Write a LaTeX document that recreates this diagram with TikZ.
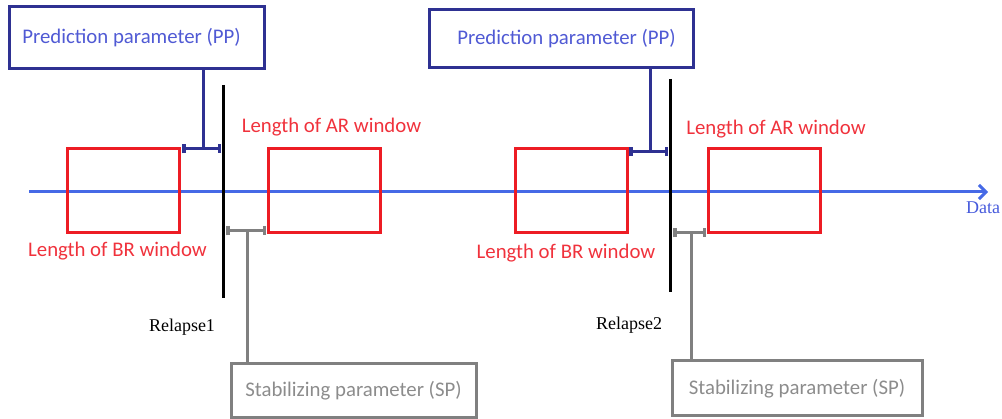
\documentclass[tikz,border=0pt]{standalone}
\usepackage{fontspec}
\setmainfont{Carlito}
\newfontfamily\tnrfont{Liberation Serif}
\usetikzlibrary{arrows.meta}
\definecolor{ppborder}{RGB}{46,49,146}
\definecolor{pptext}{RGB}{80,90,212}
\definecolor{axisblue}{RGB}{70,105,230}
\definecolor{datablue}{RGB}{70,90,220}
\definecolor{winred}{RGB}{237,28,36}
\definecolor{labred}{RGB}{240,50,60}
\definecolor{spgray}{RGB}{128,128,128}
\definecolor{sptext}{RGB}{140,140,140}
\tikzset{
  x=1pt, y=-1pt,
  every node/.style={outer sep=0pt, inner sep=0pt},
  bigfont/.style={font=\fontsize{20.8}{24}\selectfont},
  ppbox/.style={draw=ppborder, line width=3pt, rectangle, text=pptext, bigfont},
  spbox/.style={draw=spgray, line width=3pt, rectangle, text=sptext, bigfont},
  winbox/.style={draw=winred, line width=3pt, rectangle, minimum width=112, minimum height=84},
  winlabel/.style={text=labred, bigfont},
  relline/.style={draw=black, line width=3pt},
  relabel/.style={font=\tnrfont\fontsize{18}{20}\selectfont, text=black},
  ppline/.style={draw=ppborder, line width=3pt},
  spline/.style={draw=spgray, line width=3pt},
  barends/.style={{Bar[width=9pt,line width=3.5pt]}-{Bar[width=9pt,line width=3.5pt]}},
}
\begin{document}
\begin{tikzpicture}
\useasboundingbox (0,0) rectangle (1002,419);
% data axis
\coordinate (axs) at (29,192);
\coordinate (axe) at (988,192);
\draw[draw=axisblue, line width=3pt, -{Straight Barb[length=7pt,width=14pt,line width=3pt]}] (axs) -- (axe);
\node[text=datablue, font=\tnrfont\fontsize{18}{20}\selectfont, anchor=center] (data) at (983,208) {Data};

% windows
\node[winbox] (br1) at (123,191) {};
\node[winbox] (ar1) at (324,191) {};
\node[winbox] (br2) at (571,191) {};
\node[winbox] (ar2) at (764,191) {};

\node[winlabel] (arl1) at (331.5,127) {Length of AR window};
\node[winlabel] (brl1) at (117.5,251) {Length of BR window};
\node[winlabel] (arl2) at (776,129) {Length of AR window};
\node[winlabel] (brl2) at (566,253) {Length of BR window};

% relapse lines
\coordinate (r1t) at (223,85);
\coordinate (r1b) at (223,298);
\coordinate (r2t) at (670,79);
\coordinate (r2b) at (670,292);
\draw[relline] (r1t) -- (r1b);
\draw[relline] (r2t) -- (r2b);
\node[relabel] (rel1) at (182,327) {Relapse1};
\node[relabel] (rel2) at (629,325) {Relapse2};

% prediction parameter boxes
\node[ppbox, minimum width=255, minimum height=62] (pp1) at (136.5,38) {\hspace*{-10pt}Prediction parameter (PP)};
\node[ppbox, minimum width=264, minimum height=58] (pp2) at (561,38.5) {\hspace*{11pt}Prediction parameter (PP)};

% PP brackets
\coordinate (pb1l) at (182,149);
\coordinate (pb1r) at (221,149);
\coordinate (pb1m) at (203,149);
\draw[ppline, barends] (pb1l) -- (pb1r);
\draw[ppline] (pp1.south -| pb1m) -- (pb1m);
\coordinate (pb2l) at (629,152);
\coordinate (pb2r) at (668,152);
\coordinate (pb2m) at (650,152);
\draw[ppline, barends] (pb2l) -- (pb2r);
\draw[ppline] (pp2.south -| pb2m) -- (pb2m);

% stabilizing parameter boxes
\node[spbox, minimum width=245, minimum height=54] (sp1) at (353.5,391) {Stabilizing parameter (SP)};
\node[spbox, minimum width=250, minimum height=55] (sp2) at (797,388.5) {Stabilizing parameter (SP)};

% SP brackets
\coordinate (sb1l) at (226,231);
\coordinate (sb1r) at (266,231);
\coordinate (sb1m) at (247,231);
\draw[spline, barends] (sb1l) -- (sb1r);
\draw[spline] (sb1m) -- (sp1.north -| sb1m);
\coordinate (sb2l) at (673,233);
\coordinate (sb2r) at (706,233);
\coordinate (sb2m) at (691,233);
\draw[spline, barends] (sb2l) -- (sb2r);
\draw[spline] (sb2m) -- (sp2.north -| sb2m);
\end{tikzpicture}
\end{document}
